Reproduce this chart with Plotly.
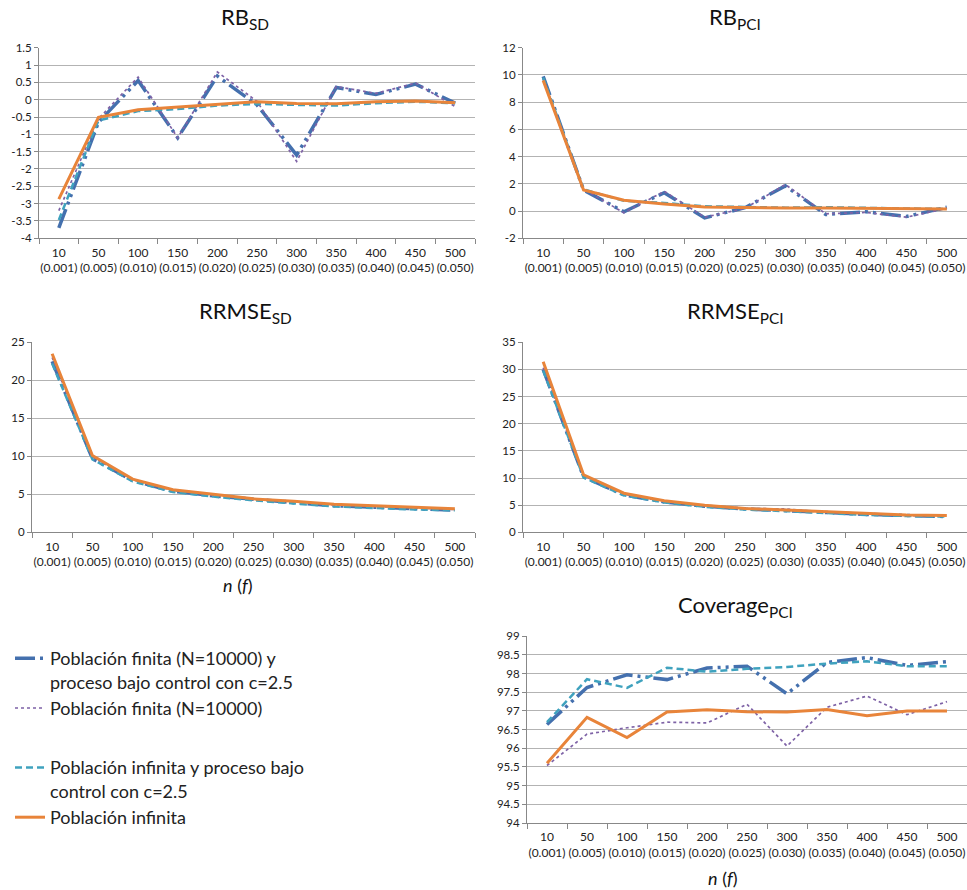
import plotly.graph_objects as go

# Sample size n and sampling fraction f
n_values = ["10", "50", "100", "150", "200", "250", "300", "350", "400", "450", "500"]
f_values = ["0.001", "0.005", "0.010", "0.015", "0.020", "0.025", "0.030", "0.035", "0.040", "0.045", "0.050"]
categories = [f"{n}<br>({f})" for n, f in zip(n_values, f_values)]

series_names = [
    "Población finita (N=10000) y<br>proceso bajo control con c=2.5",
    "Población finita (N=10000)",
    "Población infinita y proceso bajo<br>control con c=2.5",
    "Población infinita",
]

# RB_SD
rb_sd_fin_ctrl = [-3.70, -0.65, 0.55, -1.10, 0.68, -0.15, -1.60, 0.35, 0.15, 0.45, -0.10]
rb_sd_fin = [-3.20, -0.55, 0.65, -1.10, 0.80, -0.05, -1.78, 0.38, 0.18, 0.48, -0.20]
rb_sd_inf_ctrl = [-3.47, -0.60, -0.33, -0.27, -0.17, -0.12, -0.15, -0.17, -0.10, -0.06, -0.10]
rb_sd_inf = [-2.87, -0.51, -0.29, -0.22, -0.13, -0.06, -0.11, -0.12, -0.06, -0.04, -0.09]

# RB_PCI
rb_pci_fin_ctrl = [9.90, 1.55, -0.05, 1.35, -0.50, 0.25, 1.85, -0.25, -0.05, -0.40, 0.28]
rb_pci_fin = [9.70, 1.60, -0.12, 1.45, -0.45, 0.20, 1.95, -0.20, -0.10, -0.45, 0.20]
rb_pci_inf_ctrl = [9.80, 1.60, 0.75, 0.60, 0.35, 0.28, 0.25, 0.28, 0.22, 0.18, 0.15]
rb_pci_inf = [9.60, 1.55, 0.80, 0.52, 0.30, 0.25, 0.22, 0.22, 0.18, 0.15, 0.15]

# RRMSE_SD
rrmse_sd_fin_ctrl = [22.5, 9.7, 6.8, 5.4, 4.8, 4.3, 3.9, 3.5, 3.3, 3.1, 2.9]
rrmse_sd_fin = [23.0, 9.9, 6.9, 5.5, 4.9, 4.4, 4.1, 3.6, 3.4, 3.2, 3.0]
rrmse_sd_inf_ctrl = [22.2, 9.6, 6.7, 5.3, 4.7, 4.2, 3.8, 3.4, 3.2, 3.0, 2.9]
rrmse_sd_inf = [23.5, 10.1, 7.0, 5.6, 5.0, 4.4, 4.1, 3.7, 3.5, 3.3, 3.1]

# RRMSE_PCI
rrmse_pci_fin_ctrl = [30.0, 10.2, 6.9, 5.6, 4.8, 4.3, 4.0, 3.6, 3.3, 3.1, 2.9]
rrmse_pci_fin = [30.3, 10.4, 7.0, 5.7, 4.9, 4.4, 4.3, 3.7, 3.4, 3.1, 3.0]
rrmse_pci_inf_ctrl = [29.8, 10.1, 6.8, 5.5, 4.7, 4.2, 3.9, 3.5, 3.2, 3.0, 2.9]
rrmse_pci_inf = [31.4, 10.6, 7.2, 5.8, 5.0, 4.4, 4.1, 3.8, 3.5, 3.2, 3.1]

# Coverage_PCI
cov_pci_fin_ctrl = [96.64, 97.63, 97.97, 97.84, 98.15, 98.20, 97.46, 98.30, 98.43, 98.22, 98.32]
cov_pci_fin = [95.54, 96.38, 96.55, 96.70, 96.68, 97.18, 96.06, 97.10, 97.40, 96.90, 97.25]
cov_pci_inf_ctrl = [96.70, 97.85, 97.62, 98.16, 98.05, 98.13, 98.18, 98.27, 98.33, 98.20, 98.20]
cov_pci_inf = [95.60, 96.83, 96.29, 96.97, 97.03, 96.98, 96.97, 97.04, 96.87, 97.00, 97.00]

styles = [
    dict(color="#4470AE", width=3.5, dash="20px,5px,3px,5px,3px,5px"),
    dict(color="#7E62A6", width=1.7, dash="dot"),
    dict(color="#3FA2BE", width=2.5, dash="7px,4px"),
    dict(color="#E8843A", width=3, dash="solid"),
]

panels = [
    dict(title="RB<sub>SD</sub>", data=[rb_sd_fin_ctrl, rb_sd_fin, rb_sd_inf_ctrl, rb_sd_inf],
         yrange=(-4, 1.5), dtick=0.5, x=(39, 475), y=(47.7, 238.3), tx=245, ty=18),
    dict(title="RB<sub>PCI</sub>", data=[rb_pci_fin_ctrl, rb_pci_fin, rb_pci_inf_ctrl, rb_pci_inf],
         yrange=(-2, 12), dtick=2, x=(523, 967), y=(47.7, 238.3), tx=735, ty=18),
    dict(title="RRMSE<sub>SD</sub>", data=[rrmse_sd_fin_ctrl, rrmse_sd_fin, rrmse_sd_inf_ctrl, rrmse_sd_inf],
         yrange=(0, 25), dtick=5, x=(32, 475), y=(342.3, 532.3), tx=245, ty=312),
    dict(title="RRMSE<sub>PCI</sub>", data=[rrmse_pci_fin_ctrl, rrmse_pci_fin, rrmse_pci_inf_ctrl, rrmse_pci_inf],
         yrange=(0, 35), dtick=5, x=(523, 967), y=(342.3, 532.3), tx=735, ty=312),
    dict(title="Coverage<sub>PCI</sub>", data=[cov_pci_fin_ctrl, cov_pci_fin, cov_pci_inf_ctrl, cov_pci_inf],
         yrange=(94, 99), dtick=0.5, x=(527, 967), y=(636.3, 823), tx=735, ty=606),
]

W, H = 967, 890
FONT = "Lato"
fig = go.Figure()
layout = dict(
    width=W, height=H, margin=dict(l=0, r=0, t=0, b=0, autoexpand=False),
    paper_bgcolor="white", plot_bgcolor="white",
    font=dict(family=FONT, color="#222222"),
    annotations=[],
)

for i, p in enumerate(panels):
    sfx = "" if i == 0 else str(i + 1)
    for k, (vals, st) in enumerate(zip(p["data"], styles)):
        fig.add_trace(go.Scatter(
            x=categories, y=vals, mode="lines", name=series_names[k],
            line=st, xaxis="x" + sfx, yaxis="y" + sfx,
            showlegend=(i == 0), legendgroup="g1" if k < 2 else "g2",
        ))
    lo, hi = p["yrange"]
    nt = round((hi - lo) / p["dtick"])
    tickvals = [lo + j * p["dtick"] for j in range(nt + 1)]
    layout["xaxis" + sfx] = dict(
        domain=[p["x"][0] / W, min(p["x"][1] / W, 1)], anchor="y" + sfx,
        type="category", tickson="boundaries", ticks="outside", ticklen=5,
        tickcolor="#888888", showline=True, linecolor="#888888", linewidth=1,
        showgrid=False, tickangle=0, ticklabelstandoff=3, automargin=False,
        tickfont=dict(size=12, family=FONT, color="#222222"),
        range=[-0.5, 10.5],
    )
    layout["yaxis" + sfx] = dict(
        domain=[1 - p["y"][1] / H, 1 - p["y"][0] / H], anchor="x" + sfx,
        range=[lo, hi], tickvals=tickvals, ticktext=[f"{v:g}" for v in tickvals],
        showgrid=True, gridcolor="#B3B3B3", gridwidth=1, zeroline=False, automargin=False,
        showline=True, linecolor="#888888", linewidth=1, ticks="outside", ticklen=4,
        tickcolor="#888888", tickfont=dict(size=11.5, family=FONT, color="#222222"),
    )
    layout["annotations"].append(dict(
        text=p["title"], x=p["tx"] / W, y=1 - p["ty"] / H, xref="paper", yref="paper",
        xanchor="center", yanchor="middle", showarrow=False,
        font=dict(size=22, family=FONT, color="#111111"),
    ))

for ax_x, ax_y in [(238, 585), (723, 878)]:
    layout["annotations"].append(dict(
        text="<i>n</i> (<i>f</i>)", x=ax_x / W, y=1 - ax_y / H, xref="paper", yref="paper",
        xanchor="center", yanchor="middle", showarrow=False,
        font=dict(size=18, family=FONT, color="#111111"),
    ))

layout["legend"] = dict(
    x=10 / W, y=1 - 640 / H, xanchor="left", yanchor="top",
    font=dict(size=18, family=FONT, color="#222222"),
    traceorder="grouped", tracegroupgap=33, valign="top",
    bgcolor="rgba(0,0,0,0)",
)
fig.update_layout(**layout)
fig.write_html("out.html")
